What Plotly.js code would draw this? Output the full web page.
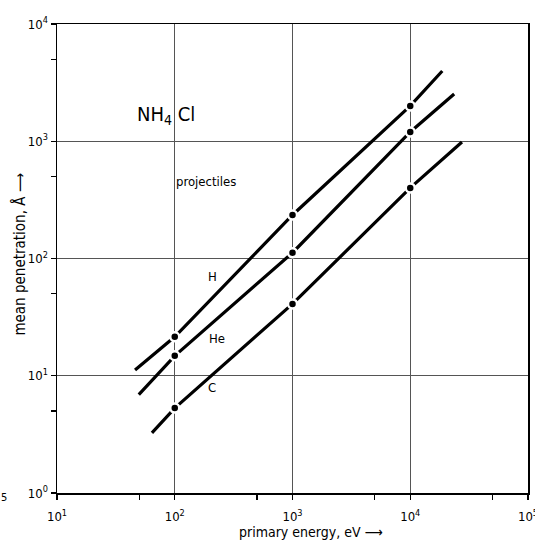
<!DOCTYPE html>
<html>
<head>
<meta charset="utf-8">
<script src="https://cdn.plot.ly/plotly-3.0.1.min.js"></script>
<style>html,body{margin:0;padding:0;background:#fff;}#chart{width:535px;height:544px;}</style>
</head>
<body>
<div id="chart"></div>
<script>
// Data
const energies = [100, 1000, 10000];           // primary energy, eV (dots)
const penH  = [21.5, 235, 2000];               // mean penetration, Å
const penHe = [14.8, 112, 1200];
const penC  = [5.3, 41, 400];
// line extents (start / end of each drawn line)
const lineH  = {x: [46, 18700], y: [11.2, 3970]};
const lineHe = {x: [49.5, 23600], y: [6.9, 2530]};
const lineC  = {x: [64, 27500], y: [3.26, 986]};
const seriesNames = ['H', 'He', 'C'];
const majorTicksX = [10, 100, 1000, 10000, 100000];
const majorTicksY = [1, 10, 100, 1000, 10000];
const tickTextX = ['10<sup>1</sup>', '10<sup>2</sup>', '10<sup>3</sup>', '10<sup>4</sup>', '10<sup>5</sup>'];
const tickTextY = ['10<sup>0</sup>', '10<sup>1</sup>', '10<sup>2</sup>', '10<sup>3</sup>', '10<sup>4</sup>'];
const minorTicksX = [50, 500, 5000, 50000];
const minorTicksY = [5, 50, 500, 5000];

const FONT = 'DejaVu Sans Condensed, Liberation Sans Narrow, sans-serif';

function lineTrace(l, pts) {
  const xs = [l.x[0]].concat(energies, [l.x[1]]);
  const ys = [l.y[0]].concat(pts, [l.y[1]]);
  return {x: xs, y: ys, mode: 'lines', type: 'scatter', line: {color: '#000', width: 3.2}, hoverinfo: 'skip', showlegend: false};
}
function dotTrace(pts) {
  return {x: energies, y: pts, mode: 'markers', type: 'scatter',
    marker: {color: '#000', size: 9, line: {color: '#fff', width: 2.5}}, showlegend: false};
}

const data = [
  lineTrace(lineH, penH), lineTrace(lineHe, penHe), lineTrace(lineC, penC),
  dotTrace(penH), dotTrace(penHe), dotTrace(penC)
];

const axisCommon = {
  type: 'log', showline: true, mirror: true, linecolor: '#000', linewidth: 1.5,
  showgrid: true, gridcolor: '#555', gridwidth: 1, zeroline: false,
  ticks: 'outside', ticklen: 5, tickcolor: '#000', tickwidth: 1.2,
  tickfont: {family: FONT, size: 13, color: '#000'}, tickmode: 'array',
  ticklabeloverflow: 'allow'
};

function label(text, x, y, size, extra) {
  return Object.assign({text: text, xref: 'paper', yref: 'paper', x: x, y: y,
    xanchor: 'center', yanchor: 'middle', showarrow: false, font: {size: size, family: FONT, color: '#000'}}, extra || {});
}

const layout = {
  width: 535, height: 544,
  margin: {l: 57, r: 7, t: 24, b: 51},
  paper_bgcolor: '#fff', plot_bgcolor: '#fff',
  font: {family: FONT, color: '#000'},
  xaxis: Object.assign({}, axisCommon, {
    range: [1, 5], tickvals: majorTicksX, ticktext: tickTextX, ticklabelstandoff: 6,
    minor: {tickmode: 'array', tickvals: minorTicksX, ticks: 'outside', ticklen: 5, tickcolor: '#000', showgrid: false}
  }),
  yaxis: Object.assign({}, axisCommon, {
    range: [0, 4], tickvals: majorTicksY, ticktext: tickTextY,
    minor: {tickmode: 'array', tickvals: minorTicksY, ticks: 'outside', ticklen: 5, tickcolor: '#000', showgrid: false}
  }),
  annotations: [
    label('NH<sub>4</sub> Cl', 0.231, 0.806, 20),
    label('projectiles', 0.316, 0.665, 13),
    label(seriesNames[0], 0.331, 0.461, 13),
    label(seriesNames[1], 0.340, 0.330, 13),
    label(seriesNames[2], 0.329, 0.226, 13),
    label('primary energy, eV ⟶', 0.540, -0.083, 14),
    label('mean penetration, Å ⟶', -0.079, 0.51, 15, {textangle: -90}),
    label('5', -0.112, -0.01, 11)
  ]
};

Plotly.newPlot('chart', data, layout, {displayModeBar: false, staticPlot: true});
</script>
</body>
</html>
